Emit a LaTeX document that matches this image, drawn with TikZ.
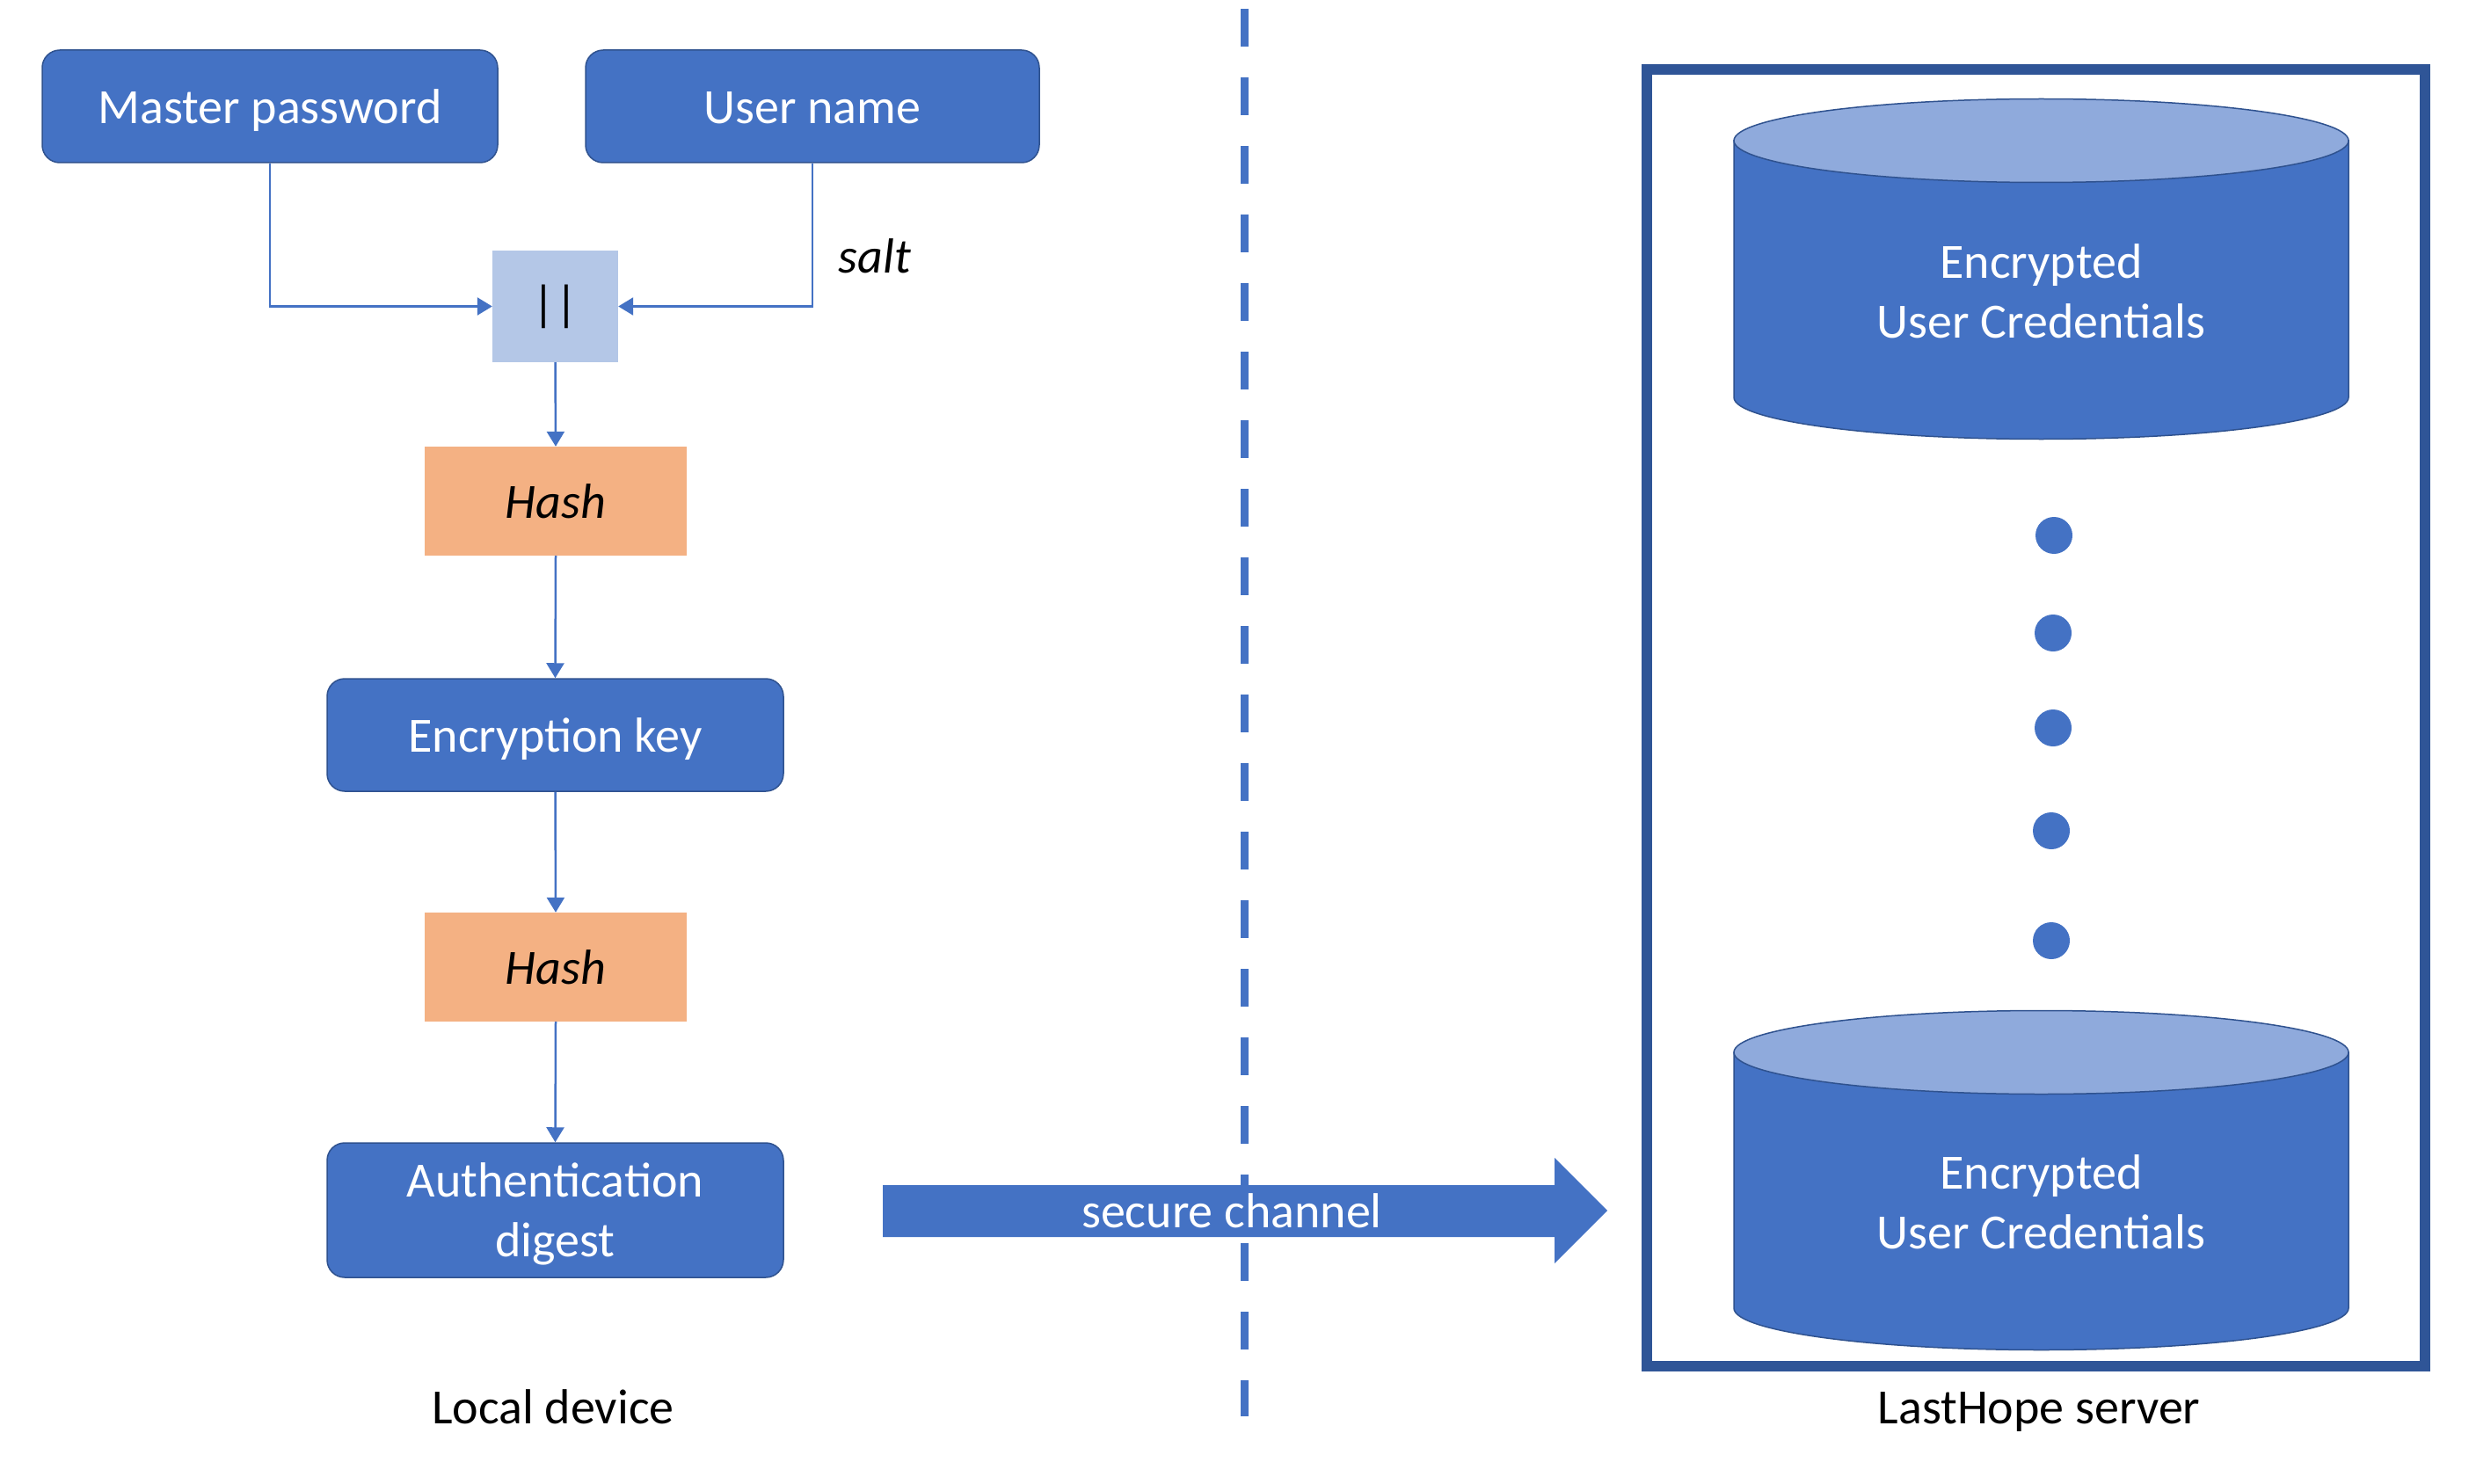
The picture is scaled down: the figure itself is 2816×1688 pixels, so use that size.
\documentclass[tikz,border=0pt]{standalone}
\usepackage{fontspec}
\setmainfont{Carlito}
\usetikzlibrary{arrows.meta}
\definecolor{boxblue}{HTML}{4472C4}
\definecolor{boxedge}{HTML}{2F528F}
\definecolor{hashor}{HTML}{F4B183}
\definecolor{concatc}{HTML}{B4C7E7}
\definecolor{cyltop}{HTML}{8FAADC}
\definecolor{serverc}{HTML}{2F5597}
\definecolor{lineblue}{HTML}{4472C4}
\tikzset{
  bluebox/.style={draw=boxedge, line width=1.5pt, fill=boxblue, rounded corners=20pt, text=white,
    minimum width=518pt, minimum height=128pt, inner sep=0pt, align=center, text height=39pt, text depth=0pt},
  hashbox/.style={fill=hashor, minimum width=298pt, minimum height=124pt, inner sep=0pt, font=\fontsize{56}{68}\selectfont\itshape},
  conn/.style={draw=lineblue, line width=2.5pt, -{Triangle[length=17pt,width=20pt]}},
  cylbody/.style={fill=boxblue, draw=boxedge, line width=1.5pt},
  cylcap/.style={fill=cyltop, draw=boxedge, line width=1.5pt},
  cyltext/.style={text=white, align=center, inner sep=0pt},
  dotc/.style={fill=boxblue},
  label/.style={text=black, inner sep=0pt, text height=39pt, text depth=0pt}
}
\begin{document}
\begin{tikzpicture}[x=1pt, y=-1pt, every node/.style={font=\fontsize{56}{68}\selectfont}]
\useasboundingbox[fill=white] (0,0) rectangle (2816,1688);

% left column
\node[bluebox] (mp) at (307,121) {Master password};
\node[bluebox, minimum width=516pt] (un) at (924,121) {User name};
\node[fill=concatc, minimum width=143pt, minimum height=127pt, inner sep=0pt] (cc) at (631.5,348.5) {||};
\node[label, font=\fontsize{56}{68}\selectfont\itshape] (salt) at (995,291) {salt};
\node[hashbox] (h1) at (632,570) {Hash};
\node[bluebox, minimum width=519pt] (ek) at (631.5,836) {Encryption key};
\node[hashbox] (h2) at (632,1100) {Hash};
\node[bluebox, minimum width=519pt, minimum height=153pt, text height=, text depth=1pt] (ad) at (631.5,1376.5) {Authentication\\digest};
\node[label] (ld) at (629,1600) {Local device};

\draw[conn] (mp.south) |- (cc.west);
\draw[conn] (un.south) |- (cc.east);
\draw[conn] (cc.south) -- (h1.north);
\draw[conn] (h1.south) -- (ek.north);
\draw[conn] (ek.south) -- (h2.north);
\draw[conn] (h2.south) -- (ad.north);

% divider
\coordinate (dtop) at (1415,10);
\coordinate (dbot) at (1415,1611);
\draw[draw=lineblue, line width=9pt, dash pattern=on 43pt off 35pt] (dtop) -- (dbot);

% secure channel arrow
\fill[boxblue] (1004,1348) -- (1768,1348) -- (1768,1317) -- (1828,1377) -- (1768,1437) -- (1768,1407) -- (1004,1407) -- cycle;
\node[text=white, inner sep=0pt] (sc) at (1401,1377) {secure channel};

% server box
\draw[draw=serverc, line width=12pt] (1873,79) rectangle (2758,1554);
\node[label] (ls) at (2319,1600) {LastHope server};

% cylinder 1
\path[cylbody] (1972,160) -- (1972,452) arc[start angle=180, end angle=360, x radius=349.5pt, y radius=47.5pt] -- (2671,160) -- cycle;
\path[cylcap] (2321.5,160) ellipse[x radius=349.5pt, y radius=47.5pt];
\node[cyltext] (c1) at (2321.5,331) {Encrypted\\User Credentials};

% cylinder 2
\path[cylbody] (1972,1197) -- (1972,1488) arc[start angle=180, end angle=360, x radius=349.5pt, y radius=47.5pt] -- (2671,1197) -- cycle;
\path[cylcap] (2321.5,1197) ellipse[x radius=349.5pt, y radius=47.5pt];
\node[cyltext] (c2) at (2321.5,1367) {Encrypted\\User Credentials};

% dots
\fill[dotc] (2336,609) circle[radius=21pt];
\fill[dotc] (2335,720) circle[radius=21pt];
\fill[dotc] (2335,828) circle[radius=21pt];
\fill[dotc] (2333,945) circle[radius=21pt];
\fill[dotc] (2333,1070) circle[radius=21pt];
\end{tikzpicture}
\end{document}
